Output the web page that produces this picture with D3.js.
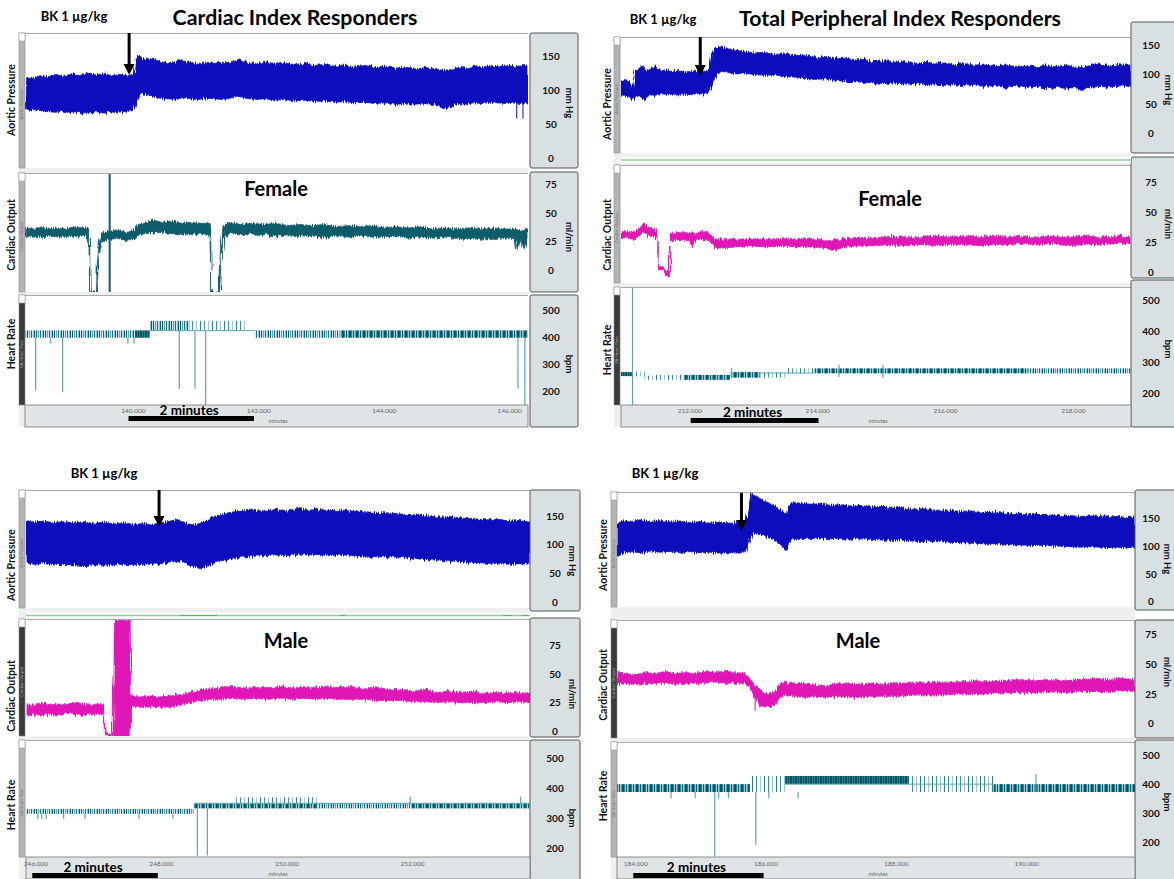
<!DOCTYPE html>
<html><head><meta charset="utf-8">
<script src="https://cdn.jsdelivr.net/npm/d3@7"></script>
<style>
body{margin:0;background:#fff}
svg{display:block}
text{font-family:Lato,'Open Sans',sans-serif}
</style>
</head><body>
<svg id="c" width="1174" height="879"></svg>
<script>
// ---------------- DATA ----------------
const titles = ['Cardiac Index Responders', 'Total Peripheral Index Responders'];
const doseLabel = 'BK 1 µg/kg';
const sexLabels = {TL:'Female', TR:'Female', BL:'Male', BR:'Male'};
const channelNames = {ap:'Aortic Pressure', co:'Cardiac Output', hr:'Heart Rate'};
const stripNames = {ap:'Aortic Pressure', co:'Cardiac Output', hr:'SA Heart Rate'};
const unitNames = {ap:'mm Hg', co:'ml/min', hr:'bpm'};
const apTicks = [0, 50, 100, 150];
const coTicks = [0, 25, 50, 75];
const hrTicks = [200, 300, 400, 500];
const timeTicksTL = [140, 142, 144, 146];
const timeTicksTR = [212, 214, 216, 218];
const timeTicksBL = [246, 248, 250, 252];
const timeTicksBR = [184, 186, 188, 190];
const barLabel = '2 minutes';
const axisUnit = 'minutes';
const bolusTime = {TL:139.94, TR:212.17, BL:247.97, BR:185.63};
const barStart = {TL:139.93, TR:212.02, BL:245.95, BR:183.97};

// trace envelopes: [minute, upper, lower]
const apTL = [[138.29,119,73],[138.39,118,70],[138.52,122,71],[138.64,120,69],[138.77,124,68],[138.90,121,70],[139.03,125,67],[139.15,122,68],[139.28,126,66],[139.41,123,69],[139.54,125,67],[139.67,122,70],[139.79,124,68],[139.92,122,71],[140.02,125,72],[140.05,148,80],[140.10,151,90],[140.14,149,96],[140.22,146,94],[140.32,148,92],[140.43,143,89],[140.56,141,88],[140.69,143,87],[140.80,146,90],[140.91,141,88],[141.04,139,87],[141.16,142,89],[141.29,140,88],[141.42,142,87],[141.55,140,89],[141.66,146,92],[141.79,142,89],[141.95,140,87],[142.11,142,88],[142.26,139,86],[142.42,141,87],[142.58,138,85],[142.74,140,86],[142.90,137,84],[143.06,139,85],[143.22,136,83],[143.38,138,84],[143.54,135,82],[143.70,137,83],[143.86,134,81],[144.02,136,82],[144.18,133,80],[144.34,135,81],[144.50,132,80],[144.66,134,81],[144.82,132,79],[144.94,130,75],[145.06,131,76],[145.18,135,81],[145.31,133,80],[145.44,136,82],[145.57,134,81],[145.69,137,83],[145.82,135,82],[145.95,138,81],[146.08,135,82],[146.19,137,81],[146.30,136,82]];
const coTL = [[138.29,37,29],[138.42,36,30],[138.55,38,29],[138.67,36,30],[138.80,37,29],[138.93,36,30],[139.06,38,29],[139.19,37,30],[139.28,37,29],[139.30,36,22],[139.31,32,-19],[139.32,-19,-20],[139.42,-19,-20],[139.43,3,-19],[139.45,18,8],[139.47,26,16],[139.52,33,26],[139.63,34,27],[139.76,35,28],[139.89,33,26],[140.02,35,27],[140.08,40,31],[140.19,41,32],[140.33,44,33],[140.46,42,33],[140.62,43,32],[140.78,41,32],[140.94,42,31],[141.10,41,32],[141.23,41,31],[141.24,38,-19],[141.25,-19,-20],[141.37,-19,-20],[141.38,5,-19],[141.41,25,12],[141.44,39,28],[141.55,42,32],[141.71,40,31],[141.90,41,32],[142.09,40,31],[142.28,41,30],[142.47,39,31],[142.66,40,30],[142.85,39,30],[143.05,40,29],[143.24,38,30],[143.43,39,29],[143.62,38,30],[143.81,39,29],[144.00,37,29],[144.19,38,30],[144.39,37,28],[144.58,38,29],[144.77,36,28],[144.96,37,29],[145.15,36,28],[145.34,37,28],[145.53,36,27],[145.73,37,28],[145.92,36,28],[146.08,36,28],[146.12,35,17],[146.17,34,27],[146.24,35,18],[146.30,36,28]];
const apTR = [[210.93,88,66],[210.99,92,64],[211.06,87,63],[211.11,78,56],[211.15,108,62],[211.22,110,64],[211.26,116,60],[211.31,106,56],[211.37,109,66],[211.47,113,65],[211.56,107,68],[211.66,108,66],[211.75,105,67],[211.84,107,65],[211.94,104,67],[212.03,106,66],[212.13,105,68],[212.22,106,67],[212.31,108,70],[212.36,140,82],[212.42,146,98],[212.50,147,106],[212.60,144,104],[212.71,142,101],[212.86,139,103],[213.02,137,100],[213.18,138,99],[213.33,134,100],[213.49,136,97],[213.65,132,96],[213.80,133,94],[213.96,129,92],[214.12,131,93],[214.27,127,90],[214.43,128,89],[214.59,125,88],[214.74,126,87],[214.90,122,86],[215.06,124,85],[215.21,121,86],[215.37,122,84],[215.53,119,85],[215.68,121,83],[215.84,118,84],[216.00,120,82],[216.15,117,83],[216.31,119,81],[216.47,116,82],[216.62,118,80],[216.78,115,81],[216.94,117,79],[217.09,114,80],[217.25,116,78],[217.41,113,80],[217.56,115,78],[217.72,114,79],[217.88,116,77],[218.03,113,78],[218.14,112,75],[218.27,116,79],[218.42,118,80],[218.58,115,79],[218.73,117,81],[218.91,116,80]];
const coTR = [[210.93,33,28],[211.03,34,29],[211.12,33,27],[211.22,36,30],[211.29,41,33],[211.37,37,30],[211.45,36,29],[211.50,34,28],[211.51,30,3],[211.52,5,2],[211.59,4,2],[211.62,3,-1],[211.66,0,-4],[211.68,2,-4],[211.69,30,-4],[211.70,32,26],[211.84,33,27],[212.00,32,26],[212.05,33,20],[212.09,32,27],[212.22,34,27],[212.31,32,26],[212.41,27,20],[212.55,27,20],[212.71,27,21],[212.94,28,22],[213.18,27,21],[213.41,28,22],[213.65,27,21],[213.88,28,21],[214.12,27,20],[214.26,26,18],[214.43,28,21],[214.66,29,22],[214.90,28,22],[215.13,30,23],[215.37,29,22],[215.61,29,23],[215.84,30,22],[216.08,29,23],[216.31,30,23],[216.55,29,22],[216.78,30,23],[217.02,29,23],[217.25,30,24],[217.49,29,23],[217.72,30,24],[217.96,29,22],[218.19,30,23],[218.42,29,23],[218.66,30,24],[218.91,29,24]];
const apBL = [[245.85,142,68],[245.97,139,66],[246.13,141,67],[246.29,138,65],[246.45,140,66],[246.61,138,65],[246.77,140,64],[246.93,137,65],[247.09,139,64],[247.25,136,65],[247.41,138,66],[247.57,135,65],[247.73,137,66],[247.85,134,66],[247.98,138,67],[248.11,140,68],[248.22,143,70],[248.34,140,72],[248.43,136,65],[248.53,134,62],[248.62,137,58],[248.72,141,62],[248.82,148,67],[248.94,152,71],[249.10,156,75],[249.26,158,78],[249.45,160,80],[249.64,158,81],[249.83,161,82],[250.02,159,81],[250.18,163,84],[250.35,160,82],[250.50,161,83],[250.69,159,81],[250.89,160,82],[251.08,158,81],[251.27,157,80],[251.46,156,79],[251.65,155,79],[251.84,153,78],[252.04,152,76],[252.23,150,74],[252.42,148,73],[252.61,149,71],[252.80,146,70],[252.99,145,69],[253.18,143,68],[253.37,144,67],[253.56,141,66],[253.72,142,67],[253.88,139,66]];
const coBL = [[245.85,24,14],[245.97,23,15],[246.10,25,14],[246.23,23,15],[246.36,24,14],[246.48,23,16],[246.61,25,15],[246.74,24,14],[246.87,23,15],[246.99,24,15],[247.09,24,16],[247.10,22,-3],[247.11,-2,-4],[247.22,-2,-4],[247.23,40,-4],[247.25,42,36],[247.26,97,-5],[247.51,97,-5],[247.52,31,21],[247.66,30,22],[247.82,31,21],[247.98,30,22],[248.14,31,21],[248.30,32,23],[248.46,34,25],[248.62,36,27],[248.78,37,28],[248.94,38,28],[249.13,39,29],[249.32,38,28],[249.51,39,29],[249.71,38,28],[249.90,39,29],[250.09,38,28],[250.28,39,29],[250.47,38,28],[250.66,39,29],[250.85,38,28],[251.05,39,28],[251.24,37,28],[251.43,38,27],[251.62,36,27],[251.81,37,27],[252.01,35,26],[252.20,36,26],[252.39,34,25],[252.58,35,26],[252.77,34,25],[252.96,35,25],[253.15,33,25],[253.34,34,26],[253.53,33,25],[253.72,34,26],[253.88,33,25]];
const apBR = [[183.72,140,80],[183.80,146,86],[183.92,143,90],[184.08,147,88],[184.23,144,91],[184.38,146,89],[184.54,143,90],[184.69,145,88],[184.84,142,90],[185.00,144,88],[185.15,141,89],[185.30,143,87],[185.46,141,88],[185.61,142,87],[185.69,143,90],[185.73,160,100],[185.78,196,118],[185.84,190,122],[185.92,185,120],[186.04,178,116],[186.16,170,110],[186.26,162,100],[186.32,158,92],[186.35,172,105],[186.41,178,112],[186.53,177,114],[186.69,175,113],[186.84,176,115],[186.99,173,113],[187.14,174,114],[187.30,172,112],[187.45,173,113],[187.60,170,112],[187.76,171,111],[187.91,168,110],[188.06,169,111],[188.25,166,109],[188.43,167,108],[188.62,164,108],[188.80,165,107],[188.98,162,106],[189.17,163,105],[189.35,160,104],[189.54,161,104],[189.72,158,103],[189.90,159,102],[190.09,156,101],[190.27,157,101],[190.46,154,100],[190.64,155,99],[190.83,153,98],[191.01,154,99],[191.20,152,97],[191.38,153,98],[191.53,151,97],[191.67,152,98]];
const coBR = [[183.72,44,34],[183.85,42,33],[184.00,41,33],[184.15,43,34],[184.31,42,33],[184.46,44,34],[184.61,42,33],[184.77,43,34],[184.92,42,34],[185.07,44,34],[185.23,43,35],[185.38,44,34],[185.53,43,34],[185.69,42,34],[185.76,38,30],[185.84,32,22],[185.92,28,15],[185.99,26,14],[186.07,25,14],[186.15,27,16],[186.22,33,22],[186.30,35,24],[186.45,33,23],[186.61,34,22],[186.76,33,23],[186.91,32,22],[187.14,34,23],[187.37,33,22],[187.60,34,23],[187.83,33,23],[188.06,34,23],[188.29,34,24],[188.52,35,24],[188.75,34,24],[188.98,35,25],[189.21,36,25],[189.44,35,25],[189.67,36,26],[189.90,37,26],[190.13,36,26],[190.37,37,27],[190.60,36,26],[190.83,37,27],[191.06,38,27],[191.29,37,27],[191.44,38,28],[191.67,37,27]];

// narrow excursions of a trace: [minute, low, high]
const apSpikesTL = [[146.12,59,82],[146.22,59,82]];
const coSpikesTL = [[139.63,-19,85]];
const coSpikesBR = [[185.84,11,22]];

// heart-rate bands: [start, end, low bpm, high bpm, density]
const hrSegTL = [[138.29,140.05,398,425,'mid'],[140.05,140.27,398,425,'dark'],[140.27,140.90,425,460,'mid'],[140.90,141.79,425,460,'sparse'],[141.95,143.30,398,425,'mid'],[143.30,146.30,398,425,'dense']];
const hrLinesTL = [[140.27,141.95,424]];
const hrSpikesTL = [[138.45,204,398],[138.69,377,398],[138.88,198,398],[139.92,377,398],[140.02,377,398],[140.74,211,424],[140.99,211,424],[141.16,150,424],[146.14,211,398],[146.25,150,398]];
const hrSegTR = [[210.93,211.10,255,268,'dark'],[211.12,211.30,254,270,'sparse'],[211.30,211.45,243,257,'sparse'],[211.45,211.91,243,259,'sparse'],[211.91,212.64,243,259,'dense'],[212.64,213.10,250,268,'dense'],[213.10,213.51,250,268,'sparse'],[213.51,213.95,264,280,'sparse'],[213.95,217.30,264,280,'dense'],[217.30,218.91,264,280,'mid']];
const hrLinesTR = [[213.10,213.95,265]];
const hrSpikesTR = [[211.11,162,543],[212.66,250,282],[214.34,252,292],[215.03,250,292]];
const hrSegBL = [[245.85,248.52,315,331,'mid'],[248.52,250.50,333,350,'dense'],[249.20,250.50,350,370,'sparse'],[250.50,252.00,333,350,'mid'],[252.00,253.88,333,350,'dense']];
const hrLinesBL = [[248.55,253.88,350]];
const hrSpikesBL = [[246.04,298,315],[246.10,298,315],[246.17,298,315],[246.45,298,315],[246.79,298,315],[247.65,298,315],[248.19,298,315],[248.58,176,333],[248.74,176,333],[251.97,350,372],[253.73,350,372]];
const hrSegBR = [[183.72,185.76,373,400,'dense'],[185.76,186.30,373,428,'sparse'],[186.30,188.20,400,428,'dark'],[188.20,189.50,400,428,'sparse'],[188.20,189.50,373,400,'sparse'],[189.50,191.67,373,400,'dense']];
const hrLinesBR = [[186.30,189.50,400]];
const hrSpikesBR = [[184.55,352,373],[184.92,352,373],[185.22,152,373],[185.28,352,373],[185.43,352,373],[185.85,192,373],[186.05,352,373],[186.50,352,373],[190.15,373,435]];
const greenMarksBL = [[248.30,248.90],[250.85,250.95],[253.45,253.60],[253.75,253.85]];

// ---------------- STYLE / LAYOUT ----------------
const C = {ap:'#0711bd', coTeal:'#0b5b6c', coPink:'#e015b6', hr:'#5aa6b3', box:'#d8e0e2', grid:'#efefef'};
const layout = {
 TL:{t:[138.28,146.30], x0:25, x1:528, stripX:19, box:[530,578], tickX:551, unitX:566, labelX:11,
     ch:{ap:{y0:33,y1:168,dom:[-14,185],box:[33,168],labelY:100,unitY:103,strip:'grey'},
         co:{y0:173,y1:292,dom:[-19,85],box:[172,292],labelY:235,unitY:237,strip:'grey'},
         hr:{y0:295,y1:405,dom:[151,555],box:[295,427],labelY:344,unitY:364,strip:'dark'}},
     axis:[405,427], axisTextY:413, minutesX:278, title:{i:0,x:295,y:25}, bk:[74,21], sex:[276,196],
     arrowY:[33,75], barY:416, green:null, coColor:C.coTeal},
 TR:{t:[210.93,218.91], x0:621, x1:1131, stripX:614, box:[1131,1182], tickX:1151, unitX:1165, labelX:607,
     ch:{ap:{y0:37,y1:153,dom:[-33,164],box:[22,153],labelY:104,unitY:90,strip:'grey'},
         co:{y0:165,y1:283,dom:[-9,89],box:[157,278],labelY:235,unitY:224,strip:'grey'},
         hr:{y0:287,y1:405,dom:[162,542],box:[280,427],labelY:350,unitY:349,strip:'dark'}},
     axis:[405,427], axisTextY:413, minutesX:878, title:{i:1,x:900,y:26}, bk:[663,24], sex:[890,206],
     arrowY:[37,76], barY:418, green:160, coColor:C.coPink},
 BL:{t:[245.85,253.88], x0:26, x1:530, stripX:19, box:[530,580], tickX:555, unitX:569, labelX:11,
     ch:{ap:{y0:490,y1:608,dom:[-10,195],box:[490,611],labelY:565,unitY:561,strip:'grey'},
         co:{y0:619,y1:736,dom:[-4,98],box:[618,737],labelY:696,unitY:694,strip:'dark'},
         hr:{y0:740,y1:857,dom:[171,561],box:[740,881],labelY:805,unitY:818,strip:'grey'}},
     axis:[857,879], axisTextY:866, minutesX:278, title:null, bk:[104,478], sex:[286,648],
     arrowY:[490,527], barY:873, green:615.5, coColor:C.coPink},
 BR:{t:[183.72,191.67], x0:617, x1:1135, stripX:611, box:[1135,1182], tickX:1151, unitX:1164, labelX:603,
     ch:{ap:{y0:492,y1:607,dom:[-9.5,197],box:[490,610],labelY:555,unitY:559,strip:'grey'},
         co:{y0:620,y1:738,dom:[-12,87],box:[620,738],labelY:685,unitY:672,strip:'dark'},
         hr:{y0:742,y1:857,dom:[151,544],box:[740,881],labelY:796,unitY:802,strip:'grey'}},
     axis:[857,879], axisTextY:866, minutesX:878, title:null, bk:[665,478], sex:[858,648],
     arrowY:[493,531], barY:873, green:null, coColor:C.coPink}
};
const quadData = {
 TL:{ap:apTL, co:coTL, apSpk:apSpikesTL, coSpk:coSpikesTL, seg:hrSegTL, lines:hrLinesTL, hrSpk:hrSpikesTL, ticks:timeTicksTL, marks:[]},
 TR:{ap:apTR, co:coTR, apSpk:[], coSpk:[], seg:hrSegTR, lines:hrLinesTR, hrSpk:hrSpikesTR, ticks:timeTicksTR, marks:[]},
 BL:{ap:apBL, co:coBL, apSpk:[], coSpk:[], seg:hrSegBL, lines:hrLinesBL, hrSpk:hrSpikesBL, ticks:timeTicksBL, marks:greenMarksBL},
 BR:{ap:apBR, co:coBR, apSpk:[], coSpk:coSpikesBR, seg:hrSegBR, lines:hrLinesBR, hrSpk:hrSpikesBR, ticks:timeTicksBR, marks:[]}
};

// ---------------- DRAW ----------------
const svg = d3.select('#c');
const defs = svg.append('defs');
const patterns = {
  dense:{w:7, bg:'#9ccdd6', lines:[[0,'#0a5564'],[1,'#2a7f8e'],[3,'#0b5d6d'],[5,'#4d9dab'],[6,'#0a5564']]},
  dark:{w:5, bg:'#2a7f8e', lines:[[0,'#0a5260'],[1,'#0a5260'],[3,'#0a5260']]},
  mid:{w:9, bg:'#cfe7ec', lines:[[0,'#0b5d6d'],[2,'#5aa6b3'],[4,'#1b6f7e'],[6,'#8ec4ce'],[7,'#0b5d6d']]},
  sparse:{w:12, bg:'none', lines:[[0,'#3f909e'],[4,'#9ccbd4'],[8,'#2a7f8e']]}
};
Object.entries(patterns).forEach(([k,p]) => {
  const pt = defs.append('pattern').attr('id','p_'+k).attr('patternUnits','userSpaceOnUse')
    .attr('width',p.w).attr('height',1000);
  if (p.bg !== 'none') pt.append('rect').attr('width',p.w).attr('height',1000).attr('fill',p.bg);
  p.lines.forEach(l => pt.append('rect').attr('x',l[0]).attr('width',1).attr('height',1000).attr('fill',l[1]));
});
const filt = defs.append('filter').attr('id','rough').attr('filterUnits','userSpaceOnUse')
  .attr('x',0).attr('y',0).attr('width',1174).attr('height',879);
filt.append('feTurbulence').attr('type','fractalNoise').attr('baseFrequency','0.9 0.04')
  .attr('numOctaves',1).attr('seed',7).attr('result','n');
filt.append('feDisplacementMap').attr('in','SourceGraphic').attr('in2','n').attr('scale',7)
  .attr('xChannelSelector','A').attr('yChannelSelector','R');

const tickSets = {ap:apTicks, co:coTicks, hr:hrTicks};

function drawQuad(key) {
  const L = layout[key], D = quadData[key];
  const g = svg.append('g');
  const x = d3.scaleLinear().domain(L.t).range([L.x0, L.x1]);
  const top = L.ch.ap.y0, bottom = L.axis[1];
  g.append('rect').attr('x',L.stripX).attr('y',top).attr('width',L.x1-L.stripX).attr('height',bottom-top).attr('fill',C.grid);

  ['ap','co','hr'].forEach(k => {
    const c = L.ch[k];
    const y = d3.scaleLinear().domain(c.dom).range([c.y1, c.y0]);
    g.append('rect').attr('x',L.x0).attr('y',c.y0).attr('width',L.x1-L.x0).attr('height',c.y1-c.y0).attr('fill','#fff');
    g.append('line').attr('x1',L.x0).attr('x2',L.x1).attr('y1',c.y0+0.5).attr('y2',c.y0+0.5).attr('stroke','#a8a8a8');
    // channel strip
    g.append('rect').attr('x',L.stripX).attr('y',c.y0).attr('width',6).attr('height',c.y1-c.y0)
      .attr('fill',c.strip==='dark'?'#3a3a3a':'#b4b4b4').attr('stroke','#8a8a8a').attr('stroke-width',0.6);
    g.append('rect').attr('x',L.stripX).attr('y',c.y0).attr('width',6).attr('height',8)
      .attr('fill','#fff').attr('stroke','#999').attr('stroke-width',0.6);
    g.append('text').attr('transform',`translate(${L.stripX+4.3},${(c.y0+c.y1)/2+4}) rotate(-90)`)
      .attr('text-anchor','middle').attr('font-size',4.5).attr('fill',c.strip==='dark'?'#aaa':'#777').text(stripNames[k]);
    // outer label
    g.append('text').attr('transform',`translate(${L.labelX+3.5},${c.labelY}) rotate(-90)`)
      .attr('text-anchor','middle').attr('font-size',10.5).attr('font-weight',700).attr('fill','#111').text(channelNames[k]);

    const cid = 'clip'+key+k;
    defs.append('clipPath').attr('id',cid).append('rect').attr('x',L.x0).attr('y',c.y0+1).attr('width',L.x1-L.x0).attr('height',c.y1-c.y0-1);
    const pg = g.append('g').attr('clip-path',`url(#${cid})`);
    if (k === 'hr') {
      D.seg.forEach(s => pg.append('rect').attr('x',x(s[0])).attr('width',x(s[1])-x(s[0]))
        .attr('y',y(s[3])).attr('height',y(s[2])-y(s[3])).attr('fill',`url(#p_${s[4]})`));
      D.lines.forEach(l => pg.append('line').attr('x1',x(l[0])).attr('x2',x(l[1])).attr('y1',y(l[2])).attr('y2',y(l[2]))
        .attr('stroke',C.hr).attr('stroke-width',1));
      D.hrSpk.forEach(s => pg.append('line').attr('x1',x(s[0])).attr('x2',x(s[0])).attr('y1',y(s[1])).attr('y2',y(s[2]))
        .attr('stroke',C.hr).attr('stroke-width',1.2));
    } else {
      const col = k === 'ap' ? C.ap : L.coColor;
      const area = d3.area().x(p => x(p[0])).y0(p => y(p[2])).y1(p => y(p[1]));
      pg.append('path').datum(D[k]).attr('d',area).attr('fill',col).attr('stroke',col)
        .attr('stroke-width',0.8).attr('filter','url(#rough)');
      (k==='ap'?D.apSpk:D.coSpk).forEach(s => pg.append('line').attr('x1',x(s[0])).attr('x2',x(s[0]))
        .attr('y1',y(s[1])).attr('y2',y(s[2])).attr('stroke',col).attr('stroke-width',k==='co'&&s[2]>80?2:1));
    }
    // right value box
    g.append('rect').attr('x',L.box[0]).attr('y',c.box[0]).attr('width',L.box[1]-L.box[0]).attr('height',c.box[1]-c.box[0])
      .attr('rx',2).attr('fill',C.box).attr('stroke','#555').attr('stroke-width',1);
    const ax = g.append('g').attr('transform',`translate(${L.tickX},0)`)
      .call(d3.axisRight(y).tickValues(tickSets[k]).tickSize(0).tickPadding(0));
    ax.select('.domain').remove();
    ax.selectAll('text').attr('x',0).attr('text-anchor','middle').attr('font-size',10).attr('font-weight',700)
      .attr('font-family','Lato, sans-serif').attr('fill','#111');
    g.append('text').attr('transform',`translate(${L.unitX},${c.unitY}) rotate(90)`)
      .attr('text-anchor','middle').attr('font-size',9.5).attr('font-weight',700).attr('fill','#111').text(unitNames[k]);
  });

  // green auxiliary channel
  if (L.green !== null) {
    g.append('rect').attr('x',L.x0).attr('y',L.green-3).attr('width',L.x1-L.x0).attr('height',6).attr('fill','#fff');
    g.append('line').attr('x1',L.x0).attr('x2',L.x1).attr('y1',L.green).attr('y2',L.green).attr('stroke','#93cf93').attr('stroke-width',1.3);
    D.marks.forEach(m => g.append('line').attr('x1',x(m[0])).attr('x2',x(m[1])).attr('y1',L.green).attr('y2',L.green)
      .attr('stroke','#5fae5f').attr('stroke-width',1));
  }

  // time axis strip
  g.append('rect').attr('x',L.x0).attr('y',L.axis[0]).attr('width',L.x1-L.x0).attr('height',L.axis[1]-L.axis[0])
    .attr('fill','#dfe5e6').attr('stroke','#777').attr('stroke-width',0.8);
  const xa = g.append('g').attr('transform',`translate(0,${L.axisTextY})`)
    .call(d3.axisBottom(x).tickValues(D.ticks).tickFormat(d3.format('.3f')).tickSize(0).tickPadding(0));
  xa.select('.domain').remove();
  xa.selectAll('text').attr('y',0).attr('dy',0).attr('font-size',6.5).attr('fill','#666')
    .attr('font-family',"'Liberation Sans Narrow','DejaVu Sans Condensed',sans-serif");
  g.append('text').attr('x',L.minutesX).attr('y',L.axisTextY+10).attr('text-anchor','middle').attr('font-size',5.5)
    .attr('fill','#666').text(axisUnit);

  // 2-minute scale bar
  const b0 = x(barStart[key]), b1 = x(barStart[key] + 2);
  g.append('rect').attr('x',b0).attr('y',L.barY).attr('width',b1-b0).attr('height',5).attr('fill','#000');
  g.append('text').attr('x',(b0+b1)/2-2).attr('y',L.barY-1.5).attr('text-anchor','middle').attr('font-size',13.5)
    .attr('font-weight',700).attr('fill','#000').text(barLabel);

  // bolus arrow
  const ax0 = x(bolusTime[key]);
  g.append('line').attr('x1',ax0).attr('x2',ax0).attr('y1',L.arrowY[0]).attr('y2',L.arrowY[1]-9).attr('stroke','#000').attr('stroke-width',3);
  g.append('path').attr('d',d3.line()([[ax0-5.5,L.arrowY[1]-11],[ax0+5.5,L.arrowY[1]-11],[ax0,L.arrowY[1]]])+'Z').attr('fill','#000');

  // texts
  if (L.title) g.append('text').attr('x',L.title.x).attr('y',L.title.y).attr('text-anchor','middle')
    .attr('font-size',21.3).attr('font-weight',700).attr('fill','#000').text(titles[L.title.i]);
  g.append('text').attr('x',L.bk[0]).attr('y',L.bk[1]).attr('text-anchor','middle').attr('font-size',13)
    .attr('font-weight',700).attr('fill','#000').text(doseLabel);
  g.append('text').attr('x',L.sex[0]).attr('y',L.sex[1]).attr('text-anchor','middle').attr('font-size',20)
    .attr('font-weight',700).attr('fill','#000').text(sexLabels[key]);
}
['TL','TR','BL','BR'].forEach(drawQuad);
</script>
</body></html>
